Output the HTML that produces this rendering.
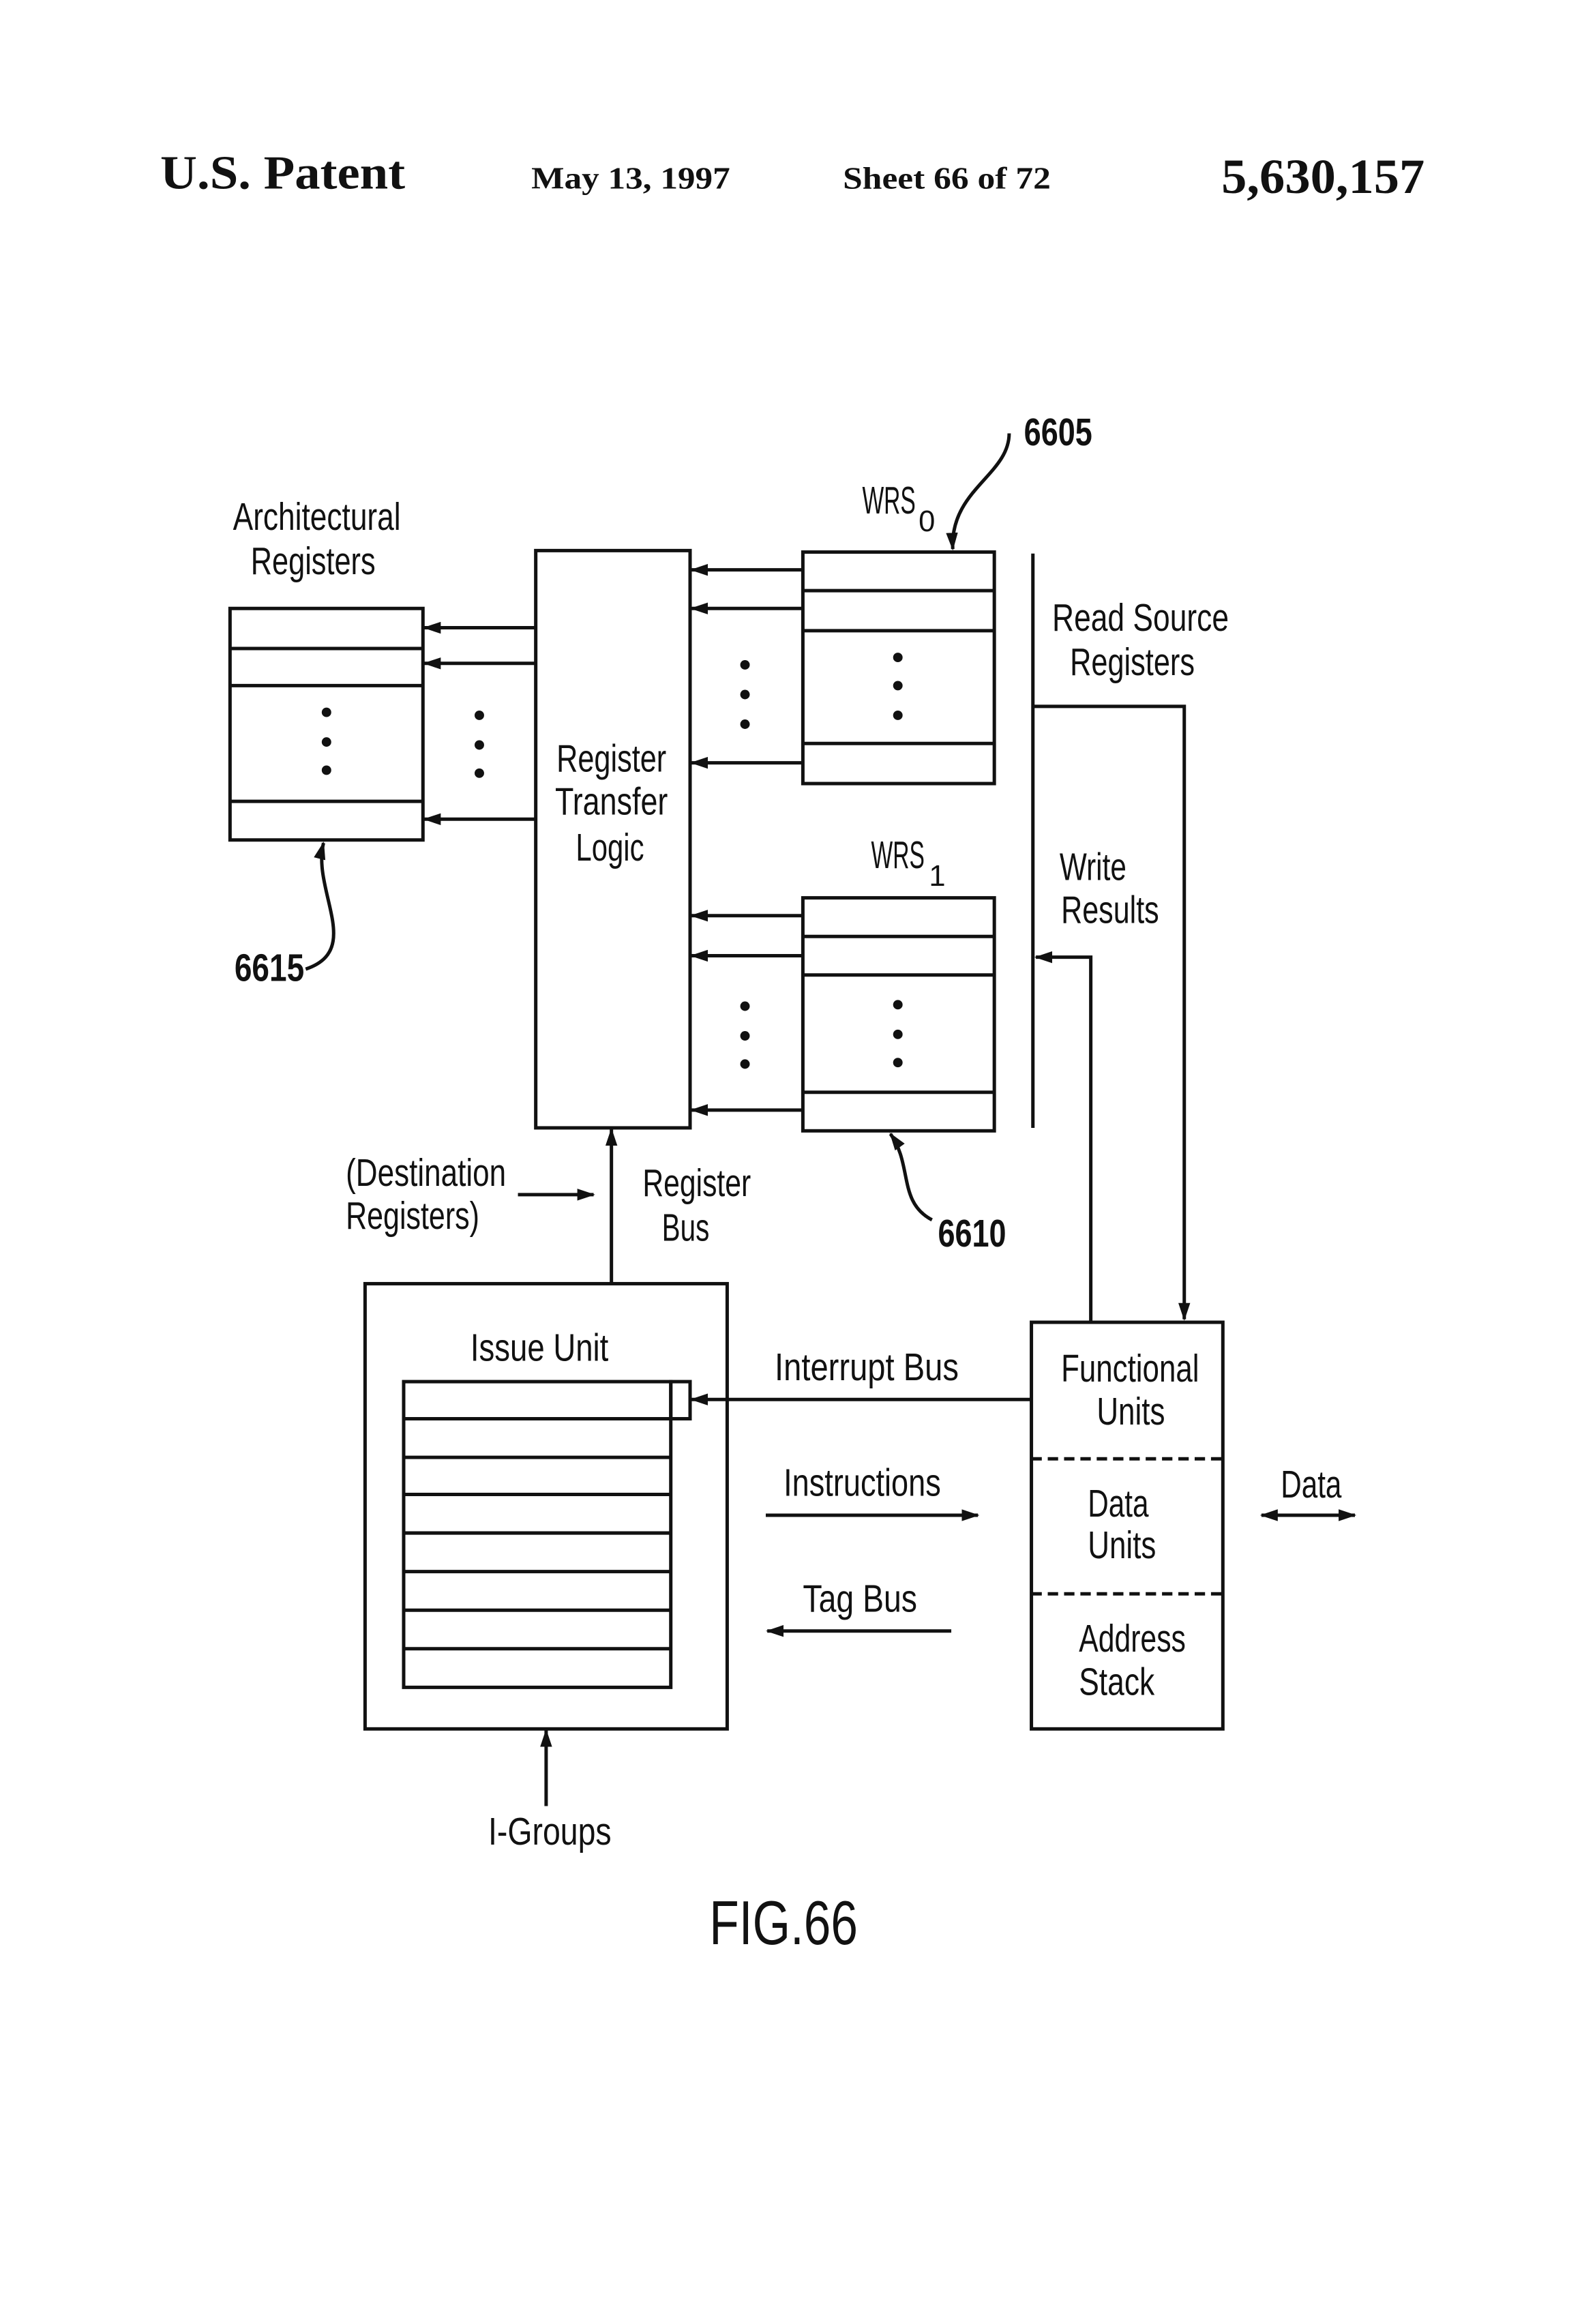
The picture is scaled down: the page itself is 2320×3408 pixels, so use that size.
<!DOCTYPE html>
<html><head><meta charset="utf-8"><style>
html,body{margin:0;padding:0;background:#fff;}
svg{display:block;}
.t{font-family:"Liberation Sans",sans-serif;font-size:26px;fill:#111;}
.b{font-family:"Liberation Sans",sans-serif;font-size:26px;font-weight:bold;fill:#111;}
.h{font-family:"Liberation Serif",serif;font-weight:bold;fill:#111;}
</style></head><body>
<svg width="2320" height="3408" viewBox="0 0 1066 1566" preserveAspectRatio="none" xmlns="http://www.w3.org/2000/svg">
<defs>
<marker id="a" markerWidth="12" markerHeight="8" refX="11" refY="4" orient="auto" markerUnits="userSpaceOnUse">
<path d="M0,0 L12,4 L0,8 z" fill="#111"/></marker>
<marker id="s" markerWidth="12" markerHeight="8" refX="1" refY="4" orient="auto" markerUnits="userSpaceOnUse">
<path d="M12,0 L0,4 L12,8 z" fill="#111"/></marker>
</defs>
<rect width="1066" height="1566" fill="#fff"/>
<text class="h" x="108" y="127" font-size="32" textLength="165" lengthAdjust="spacingAndGlyphs">U.S. Patent</text>
<text class="h" x="358" y="127" font-size="21" textLength="134" lengthAdjust="spacingAndGlyphs">May 13, 1997</text>
<text class="h" x="568" y="127" font-size="21" textLength="140" lengthAdjust="spacingAndGlyphs">Sheet 66 of 72</text>
<text class="h" x="823" y="130" font-size="33" textLength="137" lengthAdjust="spacingAndGlyphs">5,630,157</text>

<g stroke="#111" stroke-width="2.3" fill="none">
<rect x="155" y="410" width="130" height="156"/>
<line x1="155" y1="437" x2="285" y2="437"/><line x1="155" y1="462" x2="285" y2="462"/><line x1="155" y1="540" x2="285" y2="540"/>
<rect x="361" y="371" width="104" height="389"/>
<line x1="361" y1="423" x2="286" y2="423" marker-end="url(#a)"/>
<line x1="361" y1="447" x2="286" y2="447" marker-end="url(#a)"/>
<line x1="361" y1="552" x2="286" y2="552" marker-end="url(#a)"/>
<rect x="541" y="372" width="129" height="156"/>
<line x1="541" y1="398" x2="670" y2="398"/><line x1="541" y1="425" x2="670" y2="425"/><line x1="541" y1="501" x2="670" y2="501"/>
<line x1="541" y1="384" x2="466" y2="384" marker-end="url(#a)"/>
<line x1="541" y1="410" x2="466" y2="410" marker-end="url(#a)"/>
<line x1="541" y1="514" x2="466" y2="514" marker-end="url(#a)"/>
<rect x="541" y="605" width="129" height="157"/>
<line x1="541" y1="631" x2="670" y2="631"/><line x1="541" y1="657" x2="670" y2="657"/><line x1="541" y1="736" x2="670" y2="736"/>
<line x1="541" y1="617" x2="466" y2="617" marker-end="url(#a)"/>
<line x1="541" y1="644" x2="466" y2="644" marker-end="url(#a)"/>
<line x1="541" y1="748" x2="466" y2="748" marker-end="url(#a)"/>
<path d="M680,292 C680,320 640,330 642,370" marker-end="url(#a)"/>
<path d="M628,822 C605,810 615,785 600,764" marker-end="url(#a)"/>
<path d="M206,653 C245,640 210,600 218,568" marker-end="url(#a)"/>
<line x1="696" y1="373" x2="696" y2="760"/>
<polyline points="696,476 798,476 798,889" marker-end="url(#a)"/>
<polyline points="735,890 735,645 698,645" marker-end="url(#a)"/>
<rect x="246" y="865" width="244" height="300"/>
<rect x="272" y="931" width="180" height="206"/>
<line x1="272" y1="956" x2="452" y2="956"/><line x1="272" y1="982" x2="452" y2="982"/>
<line x1="272" y1="1007" x2="452" y2="1007"/><line x1="272" y1="1033" x2="452" y2="1033"/>
<line x1="272" y1="1059" x2="452" y2="1059"/><line x1="272" y1="1085" x2="452" y2="1085"/>
<line x1="272" y1="1111" x2="452" y2="1111"/>
<rect x="452" y="931" width="13" height="25"/>
<line x1="695" y1="943" x2="466" y2="943" marker-end="url(#a)"/>
<line x1="516" y1="1021" x2="659" y2="1021" marker-end="url(#a)"/>
<line x1="641" y1="1099" x2="517" y2="1099" marker-end="url(#a)"/>
<line x1="412" y1="865" x2="412" y2="761" marker-end="url(#a)"/>
<line x1="349" y1="805" x2="400" y2="805" marker-end="url(#a)"/>
<line x1="368" y1="1217" x2="368" y2="1166" marker-end="url(#a)"/>
<rect x="695" y="891" width="129" height="274"/>
<line x1="695" y1="983" x2="824" y2="983" stroke-dasharray="7,4"/>
<line x1="695" y1="1074" x2="824" y2="1074" stroke-dasharray="7,4"/>
<line x1="850" y1="1021" x2="913" y2="1021" marker-start="url(#s)" marker-end="url(#a)"/>
</g>
<g fill="#111">
<circle cx="220" cy="480" r="3.2"/><circle cx="220" cy="500" r="3.2"/><circle cx="220" cy="519" r="3.2"/>
<circle cx="323" cy="482" r="3.2"/><circle cx="323" cy="502" r="3.2"/><circle cx="323" cy="521" r="3.2"/>
<circle cx="605" cy="443" r="3.2"/><circle cx="605" cy="462" r="3.2"/><circle cx="605" cy="482" r="3.2"/>
<circle cx="502" cy="448" r="3.2"/><circle cx="502" cy="468" r="3.2"/><circle cx="502" cy="488" r="3.2"/>
<circle cx="605" cy="677" r="3.2"/><circle cx="605" cy="697" r="3.2"/><circle cx="605" cy="716" r="3.2"/>
<circle cx="502" cy="678" r="3.2"/><circle cx="502" cy="698" r="3.2"/><circle cx="502" cy="717" r="3.2"/>
</g>
<g class="t">
<text x="157" y="357" textLength="113" lengthAdjust="spacingAndGlyphs">Architectural</text>
<text x="169" y="387" textLength="84" lengthAdjust="spacingAndGlyphs">Registers</text>
<text x="375" y="520" textLength="74" lengthAdjust="spacingAndGlyphs">Register</text>
<text x="374" y="549" textLength="76" lengthAdjust="spacingAndGlyphs">Transfer</text>
<text x="388" y="580" textLength="46" lengthAdjust="spacingAndGlyphs">Logic</text>
<text x="581" y="346" textLength="36" lengthAdjust="spacingAndGlyphs">WRS</text>
<text x="619" y="358" font-size="20">0</text>
<text x="587" y="585" textLength="36" lengthAdjust="spacingAndGlyphs">WRS</text>
<text x="626" y="597" font-size="20">1</text>
<text x="709" y="425" textLength="119" lengthAdjust="spacingAndGlyphs">Read  Source</text>
<text x="721" y="455" textLength="84" lengthAdjust="spacingAndGlyphs">Registers</text>
<text x="714" y="593" textLength="45" lengthAdjust="spacingAndGlyphs">Write</text>
<text x="715" y="622" textLength="66" lengthAdjust="spacingAndGlyphs">Results</text>
<text x="233" y="799" textLength="108" lengthAdjust="spacingAndGlyphs">(Destination</text>
<text x="233" y="828" textLength="90" lengthAdjust="spacingAndGlyphs">Registers)</text>
<text x="433" y="806" textLength="73" lengthAdjust="spacingAndGlyphs">Register</text>
<text x="446" y="836" textLength="32" lengthAdjust="spacingAndGlyphs">Bus</text>
<text x="317" y="917" textLength="93" lengthAdjust="spacingAndGlyphs">Issue  Unit</text>
<text x="522" y="930" textLength="124" lengthAdjust="spacingAndGlyphs">Interrupt  Bus</text>
<text x="528" y="1008" textLength="106" lengthAdjust="spacingAndGlyphs">Instructions</text>
<text x="541" y="1086" textLength="77" lengthAdjust="spacingAndGlyphs">Tag  Bus</text>
<text x="715" y="931" textLength="93" lengthAdjust="spacingAndGlyphs">Functional</text>
<text x="739" y="960" textLength="46" lengthAdjust="spacingAndGlyphs">Units</text>
<text x="733" y="1022" textLength="41" lengthAdjust="spacingAndGlyphs">Data</text>
<text x="733" y="1050" textLength="46" lengthAdjust="spacingAndGlyphs">Units</text>
<text x="727" y="1113" textLength="72" lengthAdjust="spacingAndGlyphs">Address</text>
<text x="727" y="1142" textLength="51" lengthAdjust="spacingAndGlyphs">Stack</text>
<text x="863" y="1009" textLength="41" lengthAdjust="spacingAndGlyphs">Data</text>
<text x="329" y="1243" textLength="83" lengthAdjust="spacingAndGlyphs">I-Groups</text>
<text x="478" y="1310" font-size="42" textLength="100" lengthAdjust="spacingAndGlyphs">FIG.66</text>
</g>
<g class="b">
<text x="690" y="300" textLength="46" lengthAdjust="spacingAndGlyphs">6605</text>
<text x="632" y="840" textLength="46" lengthAdjust="spacingAndGlyphs">6610</text>
<text x="158" y="661" textLength="47" lengthAdjust="spacingAndGlyphs">6615</text>
</g>
</svg>
</body></html>
